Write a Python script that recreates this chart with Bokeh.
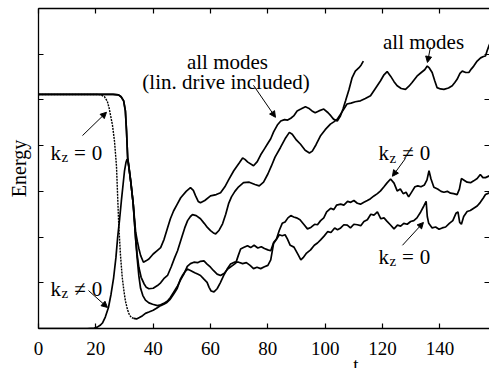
from bokeh.plotting import figure
from bokeh.models import Range1d, LinearAxis, FixedTicker, Label, Arrow, NormalHead
from bokeh.embed import file_html
from bokeh.resources import INLINE

# ---------------- data ----------------
x_ticks = [0, 20, 40, 60, 80, 100, 120, 140, 160]
y_ticks = [0, 1, 2, 3, 4, 5, 6, 7]
x_title_pos = [110.7]

all_t = [0, 20, 26, 27.9, 28.8, 29.7, 30.3, 30.7, 31.1, 31.5, 32.2, 33.0, 33.9, 34.4, 35.0, 35.8, 36.8, 37.6,
         38.5, 40.0, 41.5, 42.6, 43.7, 45.0, 46.3, 47.5, 48.5, 50.0, 51.0, 52.0, 53.0, 53.7, 55.0, 56.5, 57.8,
         58.9, 60.0, 61.0, 61.8, 63.0, 64.2, 65.3, 66.3, 67.3, 68.5, 69.8, 71.5, 73.5, 75.5, 77.0, 78.5, 80.0,
         81.2, 82.5, 84.4, 86.0, 87.5, 88.5, 90.0, 91.4, 93.0, 94.5, 95.5, 96.8, 98.3, 100.0, 101.8, 103.0,
         104.2, 106.0, 107.6, 109.0, 110.5, 112.3, 114.0, 115.8, 117.5, 119.3, 120.5, 121.6, 122.8, 124.0,
         125.1, 126.5, 128.0, 129.2, 130.3, 132.0, 133.5, 134.7, 135.6, 136.3, 137.3, 138.2, 139.0, 140.2,
         141.4, 143.0, 144.3, 145.2, 146.0, 147.0, 147.8, 149.0, 150.1, 151.0, 151.8, 153.0, 154.2, 155.2,
         155.9, 156.5, 157.2, 158.0]
all_E = [5.12, 5.12, 5.12, 5.11, 5.07, 4.98, 4.76, 4.32, 3.74, 3.55, 3.2, 2.75, 1.95, 1.62, 1.34, 1.12, 0.98, 0.9,
         0.87, 0.88, 0.94, 1.0, 1.09, 1.16, 1.35, 1.55, 1.7, 2.0, 2.2, 2.36, 2.45, 2.49, 2.47, 2.4, 2.3,
         2.21, 2.14, 2.09, 2.07, 2.15, 2.29, 2.5, 2.73, 2.88, 3.0, 3.1, 3.19, 3.2, 3.15, 3.12, 3.2, 3.38,
         3.55, 3.75, 3.96, 4.15, 4.29, 4.25, 4.12, 4.03, 3.9, 3.84, 3.88, 4.02, 4.21, 4.35, 4.47, 4.52,
         4.58, 4.75, 4.91, 4.93, 4.96, 4.98, 5.03, 5.09, 5.25, 5.42, 5.55, 5.62, 5.52, 5.4,
         5.31, 5.25, 5.23, 5.3, 5.38, 5.52, 5.6, 5.66, 5.74, 5.7, 5.6, 5.42, 5.27, 5.24,
         5.23, 5.26, 5.31, 5.38, 5.45, 5.58, 5.63, 5.6, 5.6, 5.68, 5.74, 5.85, 5.92, 5.95,
         5.96, 6.08, 6.2, 6.3]

lin_t = [0, 20, 26, 27.9, 28.8, 29.7, 30.3, 30.7, 31.1, 31.5, 32.2, 33.0, 33.9, 34.5, 35.0, 35.6, 36.6, 37.5,
         38.5, 40.0, 41.3, 42.6, 43.8, 45.0, 46.0, 47.1, 48.4, 49.6, 51.5, 53.0, 54.0, 54.8, 55.7, 56.5, 58.0,
         60.0, 62.0, 63.5, 65.0, 66.3, 68.1, 70.0, 71.2, 72.0, 73.0, 75.0, 76.3, 77.5, 78.8, 79.9, 81.0, 82.0,
         83.3, 84.5, 85.8, 86.9, 88.0, 89.0, 90.2, 91.5, 93.1, 94.2, 95.4, 96.5, 97.8, 99.5, 101.0, 102.0,
         102.9, 104.2, 105.3, 106.2, 107.1, 108.3, 109.4, 110.5, 111.7, 112.5, 113.3]
lin_E = [5.12, 5.12, 5.12, 5.11, 5.07, 4.98, 4.76, 4.32, 3.74, 3.55, 3.2, 2.75, 2.1, 1.9, 1.75, 1.6, 1.45, 1.48,
         1.52, 1.63, 1.7, 1.77, 1.95, 2.2, 2.4, 2.57, 2.72, 2.86, 3.0, 3.08, 3.02, 2.9, 2.78, 2.75, 2.8,
         2.9, 2.93, 2.97, 3.1, 3.25, 3.45, 3.62, 3.73, 3.7, 3.64, 3.56, 3.65, 3.8, 3.93, 4.04, 4.15, 4.3,
         4.45, 4.54, 4.57, 4.56, 4.6, 4.65, 4.76, 4.8, 4.85, 4.82, 4.76, 4.72, 4.76, 4.8, 4.72, 4.65,
         4.58, 4.54, 4.65, 4.8, 4.98, 5.23, 5.49, 5.63, 5.7, 5.76, 5.85]

kzn_t = [0, 17, 19.5, 20.5, 21.5, 22.3, 23.3, 24.4, 25.3, 26.2, 27.0, 27.6, 28.3, 28.9, 29.5, 30.0, 30.5, 30.9,
         31.3, 32.2, 33.0, 33.9, 34.4, 35.0, 35.6, 36.4, 37.3, 38.5, 39.8, 41.5, 42.6, 43.7, 45.0, 46.0, 47.1,
         48.5, 49.6, 50.7, 51.9, 53.0, 54.2, 55.5, 56.5, 57.7, 58.8, 60.0, 61.0, 62.3, 63.5, 64.8, 66.0, 67.5,
         68.8, 69.7, 70.5, 71.5, 72.9, 74.0, 75.2, 76.5, 77.7, 78.8, 80.0, 81.0, 82.0, 83.0, 84.0, 85.0, 86.0,
         87.0, 88.0, 89.0, 90.0, 91.2, 92.5, 93.8, 95.0, 96.3, 97.3, 98.4, 99.5, 100.5, 101.9, 103.0, 104.0,
         105.4, 106.5, 107.8, 108.9, 110.0, 111.2, 112.3, 113.5, 114.7, 115.8, 117.0, 118.2, 119.3, 120.5,
         121.5, 122.8, 124.0, 125.1, 126.2, 127.2, 128.2, 129.1, 130.3, 131.3, 132.3, 133.4, 134.6, 135.5,
         136.2, 136.9, 137.9, 139.2, 140.4, 141.4, 142.6, 143.7, 144.8, 146.0, 146.8, 147.5, 148.3, 149.5,
         150.7, 151.8, 153.0, 154.1, 155.0, 155.9, 157.3, 158.0]
kzn_E = [0, 0, 0.01, 0.03, 0.07, 0.12, 0.25, 0.46, 0.75, 1.11, 1.55, 1.99, 2.4, 2.79, 3.15, 3.45, 3.63, 3.71,
         3.62, 3.2, 2.75, 1.95, 1.55, 1.15, 0.88, 0.72, 0.62, 0.56, 0.53, 0.5, 0.52, 0.55, 0.6, 0.68, 0.79,
         0.93, 1.07, 1.19, 1.36, 1.42, 1.45, 1.44, 1.47, 1.48, 1.41, 1.34, 1.27, 1.19, 1.16, 1.21, 1.3, 1.37,
         1.43, 1.6, 1.74, 1.77, 1.81, 1.77, 1.82, 1.76, 1.79, 1.75, 1.72, 1.7, 1.88, 1.96, 2.15, 2.3, 2.33,
         2.42, 2.47, 2.44, 2.42, 2.38, 2.28, 2.18, 2.21, 2.28, 2.27, 2.36, 2.42, 2.55, 2.63, 2.6, 2.7,
         2.72, 2.7, 2.78, 2.76, 2.8, 2.74, 2.72, 2.76, 2.8, 2.84, 2.9, 2.95, 3.01, 3.1,
         3.18, 3.27, 3.18, 3.01, 3.05, 2.95, 2.98, 2.88, 3.0, 3.1, 3.12, 3.1, 3.14, 3.25,
         3.45, 3.27, 3.09, 3.05, 3.0, 2.98, 3.0, 2.96, 2.95, 2.93, 3.05, 3.28, 3.25, 3.2,
         3.19, 3.23, 3.28, 3.37, 3.3, 3.3, 3.34, 3.33]

kz0_early_t = [0, 20.5, 21.8, 23.0, 24.0, 24.6, 25.2, 25.8, 26.5, 27.2, 27.6, 28.0, 28.6, 29.2, 29.8, 30.3,
               31.0, 31.7, 32.4, 33.2]
kz0_early_E = [5.12, 5.12, 5.11, 5.07, 4.97, 4.83, 4.64, 4.45, 4.1, 3.55, 2.9, 2.25, 1.6, 1.12, 0.82, 0.61,
               0.42, 0.3, 0.24, 0.22]

kz0_t = [33.2, 34.2, 35.2, 36.3, 37.3, 38.5, 40.0, 41.3, 42.6, 43.7, 44.8, 45.8, 46.8, 47.6, 48.4, 49.5, 50.3,
         51.2, 51.9, 53.0, 54.5, 55.5, 56.5, 57.7, 58.8, 59.5, 60.2, 61.2, 62.3, 63.4, 64.6, 65.8, 67.0, 68.3,
         69.8, 71.2, 72.5, 73.8, 75.0, 76.2, 77.5, 78.8, 80.0, 81.0, 82.0, 83.0, 84.0, 85.0, 86.0, 86.8, 87.8,
         89.1, 90.5, 91.5, 92.3, 93.5, 94.9, 96.2, 97.3, 98.4, 99.6, 100.9, 102.0, 103.3, 104.3, 105.4, 106.5,
         107.7, 108.8, 110.0, 111.2, 112.4, 113.5, 114.7, 115.9, 117.0, 118.2, 119.4, 120.5, 121.5, 122.7,
         124.0, 125.2, 126.3, 127.4, 128.6, 129.8, 130.9, 132.0, 133.3, 134.4, 135.2, 135.6, 136.1, 137.3,
         138.5, 139.7, 140.8, 142.0, 143.3, 144.5, 145.6, 146.3, 146.9, 147.5, 148.3, 149.5, 150.6, 151.8,
         153.0, 154.1, 155.2, 155.9, 157.3, 158.0]
kz0_E = [0.22, 0.21, 0.24, 0.28, 0.33, 0.36, 0.4, 0.45, 0.5, 0.53, 0.57, 0.63, 0.72, 0.8, 0.88, 1.08, 1.17,
         1.25, 1.3, 1.27, 1.22, 1.19, 1.16, 1.08, 1.01, 0.9, 0.82, 0.8, 0.87, 1.0, 1.16, 1.3, 1.41, 1.45,
         1.45, 1.42, 1.44, 1.38, 1.31, 1.34, 1.31, 1.35, 1.38, 1.5, 1.86, 1.95, 2.05, 2.03, 2.05, 1.96, 1.82,
         1.78, 1.62, 1.5, 1.55, 1.65, 1.72, 1.82, 1.87, 1.94, 2.02, 2.12, 2.1, 2.2, 2.16, 2.2, 2.27,
         2.26, 2.2, 2.28, 2.27, 2.25, 2.34, 2.38, 2.5, 2.48, 2.55, 2.4, 2.42, 2.35, 2.27,
         2.18, 2.26, 2.24, 2.3, 2.28, 2.34, 2.36, 2.42, 2.55, 2.68, 2.78, 2.45, 2.3, 2.2,
         2.22, 2.17, 2.2, 2.22, 2.3, 2.36, 2.52, 2.55, 2.32, 2.28, 2.45, 2.56, 2.58, 2.63,
         2.68, 2.76, 2.86, 2.93, 2.97, 3.0]

# ---------------- figure ----------------
SERIF = "Liberation Serif"
p = figure(width=489, height=384, output_backend="svg", toolbar_location=None,
           x_range=Range1d(0, 157.3), y_range=Range1d(0, 7),
           x_axis_type=None, y_axis_type=None,
           min_border_left=38, min_border_right=0, min_border_top=8, min_border_bottom=56)
p.outline_line_color = None
p.grid.visible = False
p.background_fill_color = "white"
p.border_fill_color = "white"

bottom_axis = LinearAxis(ticker=FixedTicker(ticks=x_ticks))
t_axis = LinearAxis(ticker=FixedTicker(ticks=x_title_pos), major_label_overrides={x_title_pos[0]: "t"})
top_axis = LinearAxis(ticker=FixedTicker(ticks=x_ticks),
                      major_label_overrides={v: "" for v in x_ticks})
left_axis = LinearAxis(ticker=FixedTicker(ticks=y_ticks),
                       major_label_overrides={v: "" for v in y_ticks}, axis_label="Energy")
right_axis = LinearAxis(ticker=FixedTicker(ticks=y_ticks),
                        major_label_overrides={v: "" for v in y_ticks})
p.add_layout(bottom_axis, "below")
p.add_layout(t_axis, "below")
p.add_layout(top_axis, "above")
p.add_layout(left_axis, "left")
p.add_layout(right_axis, "right")

for ax in [bottom_axis, top_axis, left_axis, right_axis]:
    ax.major_tick_in = 5
    ax.major_tick_out = 0
    ax.minor_tick_line_color = None
    ax.axis_line_color = "black"
    ax.axis_line_width = 1.3
    ax.major_tick_line_width = 1.2
    ax.major_tick_line_color = "black"
right_axis.axis_line_color = None

for ax in [top_axis, left_axis, right_axis]:
    ax.major_label_text_font_size = "1px"
    ax.major_label_standoff = 0

bottom_axis.major_label_text_font = SERIF
bottom_axis.major_label_text_font_size = "19px"
bottom_axis.major_label_text_color = "black"
bottom_axis.major_label_standoff = 13

t_axis.axis_line_color = None
t_axis.major_tick_line_color = None
t_axis.minor_tick_line_color = None
t_axis.major_tick_in = 0
t_axis.major_tick_out = 0
t_axis.major_label_text_font = SERIF
t_axis.major_label_text_font_size = "19px"
t_axis.major_label_text_color = "black"
t_axis.major_label_standoff = -4

left_axis.axis_label_text_font = SERIF
left_axis.axis_label_text_font_size = "20px"
left_axis.axis_label_text_font_style = "normal"
left_axis.axis_label_text_color = "black"
left_axis.axis_label_standoff = 9

LW = 1.7
p.line(all_t, all_E, line_color="black", line_width=LW)
p.line(lin_t, lin_E, line_color="black", line_width=LW)
p.line(kzn_t, kzn_E, line_color="black", line_width=LW)
p.line(kz0_early_t, kz0_early_E, line_color="black", line_width=1.4, line_dash="2 1")
p.line(kz0_t, kz0_E, line_color="black", line_width=LW)

def lab(x, y, text, size="21px", align="left"):
    p.add_layout(Label(x=x, y=y, text=text, text_font=SERIF, text_font_size=size,
                       text_align=align, text_baseline="alphabetic", text_color="black"))

# curve annotations
lab(65.9, 5.84, "all modes", align="center")
lab(65.4, 5.40, "(lin. drive included)", align="center")
lab(134.3, 6.26, "all modes", align="center")

def kz(xk, yb, rel):
    lab(xk, yb, "k")
    lab(xk + 3.84, yb - 0.09, "z", size="15px")
    lab(xk + 10.3, yb, rel, align="center")
    lab(xk + 16.2, yb, "0", align="center")

kz(4.18, 3.85, "=")
kz(4.18, 0.875, "\u2260")
kz(118.57, 3.83, "\u2260")
kz(118.57, 1.575, "=")

arrows = [((15.34, 4.22), (23.71, 4.73)),
          ((17.44, 0.83), (24.06, 0.46)),
          ((74.98, 5.32), (82.65, 4.62)),
          ((136.7, 6.15), (135.66, 5.82)),
          ((127.99, 3.72), (123.45, 3.33)),
          ((126.94, 1.82), (134.26, 2.32))]
for (xs, ys), (xe, ye) in arrows:
    p.add_layout(Arrow(x_start=xs, y_start=ys, x_end=xe, y_end=ye, line_color="black", line_width=1,
                       end=NormalHead(size=6, fill_color="black", line_color="black")))

open("out.html", "w").write(file_html(p, INLINE))
